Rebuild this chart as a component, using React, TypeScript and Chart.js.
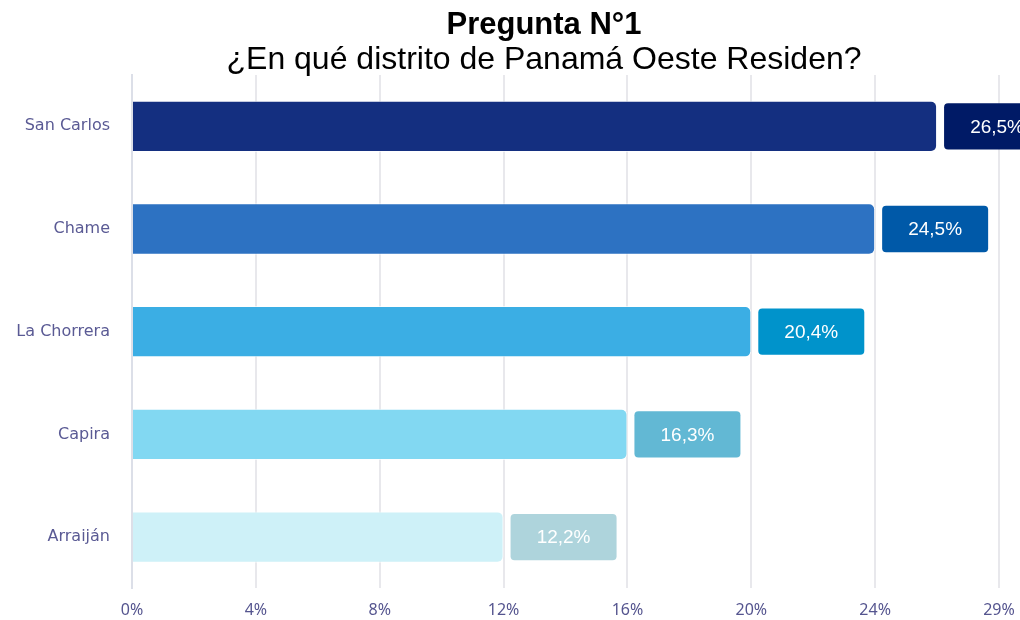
import React, { useEffect, useRef } from "react";
import { Chart, registerables } from "chart.js";

Chart.register(...registerables);

const categories = ["San Carlos", "Chame", "La Chorrera", "Capira", "Arraiján"];
const barValues = [26, 24, 20, 16, 12];
const labelTexts = ["26,5%", "24,5%", "20,4%", "16,3%", "12,2%"];
const barColors = ["#142F80", "#2D72C2", "#3BAEE4", "#82D8F2", "#CEF1F8"];
const boxColors = ["#001A66", "#0059A8", "#0093CB", "#62B8D4", "#AED4DC"];
const xTickLabels = ["0%", "4%", "8%", "12%", "16%", "20%", "24%", "29%"];
const titleText = "Pregunta N°1";
const subtitleText = "¿En qué distrito de Panamá Oeste Residen?";

const titlePlugin = {
  id: "centeredTitles",
  afterDraw(chart: any) {
    const ctx = chart.ctx;
    const cx = chart.width / 2;
    ctx.save();
    ctx.fillStyle = "#000000";
    ctx.textAlign = "center";
    ctx.textBaseline = "alphabetic";
    ctx.font = "bold 31px 'Liberation Sans', Arial, sans-serif";
    ctx.fillText(titleText, cx, 34);
    ctx.font = "32px 'Liberation Sans', Arial, sans-serif";
    ctx.fillText(subtitleText, cx, 69);
    ctx.restore();
  },
};

const labelBoxPlugin = {
  id: "labelBoxes",
  afterDatasetsDraw(chart: any) {
    const ctx = chart.ctx;
    const meta = chart.getDatasetMeta(0);
    ctx.save();
    meta.data.forEach((bar: any, i: number) => {
      const h = bar.height - 5;
      const w = 106;
      const x = bar.x + 7;
      const y = bar.y - h / 2;
      ctx.fillStyle = boxColors[i];
      ctx.beginPath();
      (ctx as any).roundRect(x, y, w, h, 4);
      ctx.fill();
      ctx.fillStyle = "#FFFFFF";
      ctx.font = "19px 'Liberation Sans', Arial, sans-serif";
      ctx.textAlign = "center";
      ctx.textBaseline = "middle";
      ctx.fillText(labelTexts[i], x + w / 2, bar.y + 1);
    });
    ctx.restore();
  },
};

export default function App() {
  const ref = useRef<HTMLCanvasElement | null>(null);
  useEffect(() => {
    if (!ref.current) return;
    const chart = new Chart(ref.current, {
      type: "bar",
      data: {
        labels: categories,
        datasets: [
          {
            data: barValues,
            backgroundColor: barColors,
            borderColor: "rgba(255,255,255,0.7)",
            borderWidth: 1,
            borderRadius: 6,
            categoryPercentage: 1,
            barPercentage: 0.5,
          },
        ],
      },
      options: {
        indexAxis: "y",
        animation: false,
        responsive: false,
        maintainAspectRatio: false,
        layout: { padding: { left: 0, right: 89, top: 75, bottom: 0 } },
        plugins: {
          legend: { display: false },
          tooltip: { enabled: false },
          title: { display: false },
          subtitle: { display: false },
        },
        scales: {
          x: {
            min: 0,
            max: 28,
            ticks: {
              stepSize: 4,
              padding: 12,
              color: "#55558F",
              font: { family: "'Noto Sans', sans-serif", size: 16, lineHeight: 1.2 },
              callback: (_v: any, i: number) => xTickLabels[i],
            },
            grid: { display: true, color: "#E8E8EC", lineWidth: 2, drawTicks: false },
            border: { display: false },
            afterFit: (scale: any) => {
              scale.height = 30;
            },
          },
          y: {
            ticks: {
              padding: 22,
              color: "#5A5A94",
              font: { family: "'DejaVu Sans', sans-serif", size: 16 },
            },
            grid: { display: false, drawTicks: false },
            border: { display: true, color: "#DCDFE8", width: 2 },
            afterFit: (scale: any) => {
              scale.width = 132;
            },
          },
        },
      },
      plugins: [labelBoxPlugin, titlePlugin],
    });
    return () => chart.destroy();
  }, []);
  return (
    <div style={{ position: "fixed", left: 0, top: 0, width: 1020, height: 620, overflow: "hidden", background: "#fff" }}>
      <canvas ref={ref} width={1088} height={620} style={{ width: 1088, height: 620, display: "block" }} />
    </div>
  );
}
